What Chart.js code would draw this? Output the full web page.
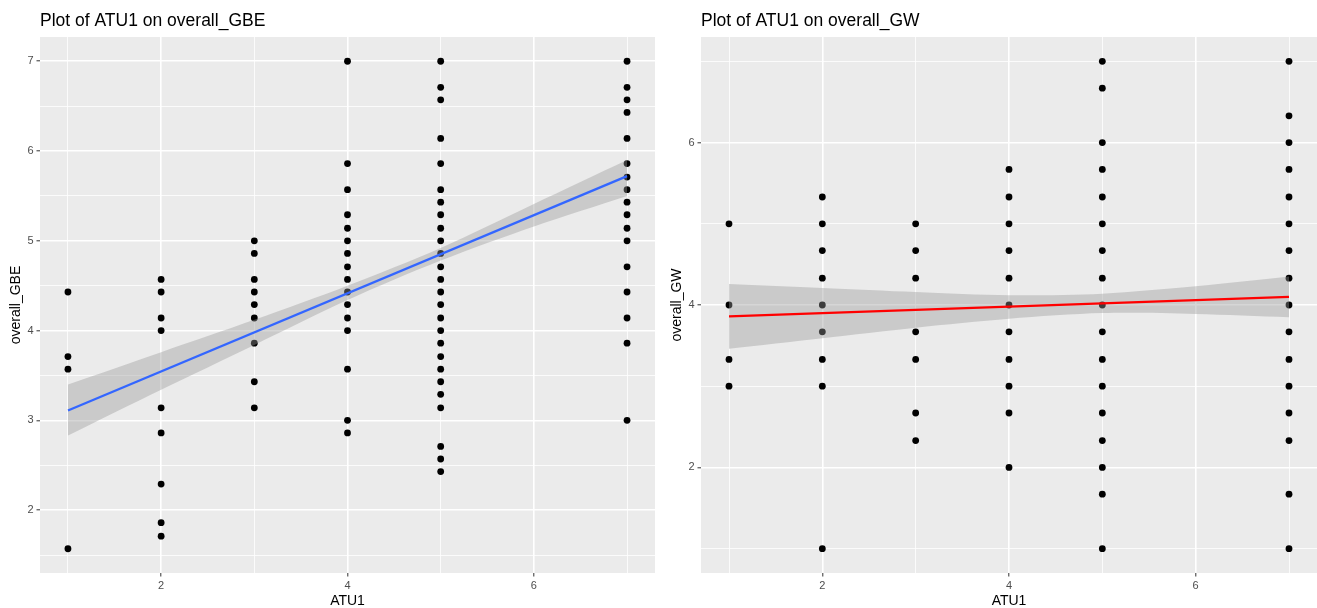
<!DOCTYPE html>
<html>
<head>
<meta charset="utf-8">
<script src="https://cdn.jsdelivr.net/npm/chart.js@4"></script>
<style>
  body { margin: 0; background: #fff; overflow: hidden; }
  canvas { position: absolute; top: 0; }
  #gbe { left: 0; }
  #gw { left: 658px; }
</style>
</head>
<body>
<canvas id="gbe" width="658" height="608"></canvas>
<canvas id="gw" width="659" height="608"></canvas>
<script>
// ATU1 levels present in the data
const atu1Levels = [1, 2, 3, 4, 5, 7];

// overall_GBE values for each ATU1 level
const gbeScores = [
  [4.43, 3.71, 3.57, 1.57],
  [4.57, 4.43, 4.14, 4.00, 3.14, 2.86, 2.29, 1.86, 1.71],
  [5.00, 4.86, 4.57, 4.43, 4.29, 4.14, 3.86, 3.43, 3.14],
  [7.00, 5.86, 5.57, 5.29, 5.14, 5.00, 4.86, 4.71, 4.57, 4.43, 4.29, 4.14, 4.00, 3.57, 3.00, 2.86],
  [7.00, 6.71, 6.57, 6.14, 5.86, 5.57, 5.43, 5.29, 5.14, 5.00, 4.86, 4.71, 4.57, 4.43, 4.29, 4.14,
   4.00, 3.86, 3.71, 3.57, 3.43, 3.29, 3.14, 2.71, 2.57, 2.43],
  [7.00, 6.71, 6.57, 6.43, 6.14, 5.86, 5.71, 5.57, 5.43, 5.29, 5.14, 5.00, 4.71, 4.43, 4.14, 3.86, 3.00]
];

// overall_GW values for each ATU1 level
const gwScores = [
  [5.00, 4.00, 3.33, 3.00],
  [5.33, 5.00, 4.67, 4.33, 4.00, 3.67, 3.33, 3.00, 1.00],
  [5.00, 4.67, 4.33, 3.67, 3.33, 2.67, 2.33],
  [5.67, 5.33, 5.00, 4.67, 4.33, 4.00, 3.67, 3.33, 3.00, 2.67, 2.00],
  [7.00, 6.67, 6.00, 5.67, 5.33, 5.00, 4.67, 4.33, 4.00, 3.67, 3.33, 3.00, 2.67, 2.33, 2.00, 1.67, 1.00],
  [7.00, 6.33, 6.00, 5.67, 5.33, 5.00, 4.67, 4.33, 4.00, 3.67, 3.33, 3.00, 2.67, 2.33, 1.67, 1.00]
];

// fitted lines and confidence bands
const fitX = [1, 7];
const gbeFitY = [3.11, 5.72];
const gwFitY = [3.86, 4.10];
const bandX = [1, 2, 3, 4, 5, 6, 7];
const gbeBandLow = [2.83, 3.34, 3.84, 4.34, 4.78, 5.16, 5.50];
const gbeBandHigh = [3.40, 3.76, 4.12, 4.50, 4.92, 5.41, 5.90];
const gwBandLow = [3.46, 3.59, 3.72, 3.83, 3.90, 3.89, 3.85];
const gwBandHigh = [4.26, 4.21, 4.16, 4.12, 4.14, 4.23, 4.35];

// axis ticks (grid positions) and labelled ones
const xGrid = [1, 2, 3, 4, 5, 6, 7];
const xLabels = [2, 4, 6];
const gbeYGrid = [1.5, 2, 2.5, 3, 3.5, 4, 4.5, 5, 5.5, 6, 6.5, 7];
const gbeYLabels = [2, 3, 4, 5, 6, 7];
const gwYGrid = [1, 2, 3, 4, 5, 6, 7];
const gwYLabels = [2, 4, 6];

const FONT = '"Liberation Sans", Arial, Helvetica, sans-serif';

const panelBg = {
  id: 'panelBg',
  beforeDraw(chart) {
    const a = chart.chartArea, ctx = chart.ctx;
    ctx.save();
    ctx.fillStyle = '#EBEBEB';
    ctx.fillRect(a.left, a.top, a.right - a.left, a.bottom - a.top);
    ctx.restore();
  }
};

const plotTitle = {
  id: 'plotTitle',
  afterDraw(chart, args, opts) {
    const ctx = chart.ctx;
    ctx.save();
    ctx.font = '17.5px ' + FONT;
    ctx.fillStyle = '#000';
    ctx.textBaseline = 'alphabetic';
    ctx.fillText(opts.text, chart.chartArea.left, 26);
    ctx.restore();
  }
};

function axis(grid, labels, min, max, title, horizontal, size, titlePad) {
  const major = v => labels.includes(v);
  return {
    type: 'linear',
    min: min,
    max: max,
    afterBuildTicks: s => { s.ticks = grid.map(v => ({ value: v })); },
    afterFit: s => {
      if (horizontal) s.height = size; else s.width = size;
      s.paddingLeft = s.paddingRight = s.paddingTop = s.paddingBottom = 0;
    },
    border: { display: false },
    grid: {
      color: '#FFFFFF',
      lineWidth: c => major(c.tick.value) ? 1.6 : 0.8,
      tickColor: c => major(c.tick.value) ? '#333333' : 'rgba(0,0,0,0)',
      tickWidth: 1,
      tickLength: 3.5,
      drawTicks: true
    },
    ticks: {
      autoSkip: false,
      maxRotation: 0,
      padding: 3,
      color: '#4D4D4D',
      font: { family: FONT, size: 11 },
      callback: v => major(v) ? String(v) : ''
    },
    title: {
      display: true,
      text: title,
      color: '#000',
      font: { family: FONT, size: 14, lineHeight: 1 },
      padding: { top: titlePad, bottom: 0 }
    }
  };
}

function makePanel(id, title, yTitle, scores, fitY, bandLow, bandHigh, lineColor,
                   yMin, yMax, yGrid, yLabels, yWidth, yTitlePad, padRight) {
  const points = atu1Levels.flatMap((x, i) => scores[i].map(y => ({ x: x, y: y })));
  new Chart(document.getElementById(id), {
    type: 'scatter',
    data: {
      datasets: [
        {
          data: points,
          pointRadius: 3.4,
          pointBackgroundColor: '#000',
          pointBorderWidth: 0,
          pointBorderColor: 'rgba(0,0,0,0)',
          order: 3
        },
        {
          data: bandX.map((x, i) => ({ x: x, y: bandLow[i] })),
          showLine: true,
          borderColor: 'rgba(0,0,0,0)',
          borderWidth: 0,
          pointRadius: 0,
          tension: 0.3,
          fill: false,
          order: 2
        },
        {
          data: bandX.map((x, i) => ({ x: x, y: bandHigh[i] })),
          showLine: true,
          borderColor: 'rgba(0,0,0,0)',
          borderWidth: 0,
          pointRadius: 0,
          tension: 0.3,
          fill: '-1',
          backgroundColor: 'rgba(153,153,153,0.4)',
          order: 2
        },
        {
          data: fitX.map((x, i) => ({ x: x, y: fitY[i] })),
          showLine: true,
          borderColor: lineColor,
          borderWidth: 2.3,
          pointRadius: 0,
          fill: false,
          order: 1
        }
      ]
    },
    options: {
      responsive: false,
      animation: false,
      events: [],
      layout: { autoPadding: false, padding: { top: 37, right: padRight, left: 0, bottom: 0 } },
      scales: {
        x: axis(xGrid, xLabels, 0.7, 7.3, 'ATU1', true, 35, 0),
        y: axis(yGrid, yLabels, yMin, yMax, yTitle, false, yWidth, yTitlePad)
      },
      plugins: {
        legend: { display: false },
        tooltip: { enabled: false },
        plotTitle: { text: title }
      }
    },
    plugins: [panelBg, plotTitle]
  });
}

makePanel('gbe', 'Plot of ATU1 on overall_GBE', 'overall_GBE', gbeScores, gbeFitY,
  gbeBandLow, gbeBandHigh, '#3366FF', 1.3, 7.27, gbeYGrid, gbeYLabels, 40, 9, 3);
makePanel('gw', 'Plot of ATU1 on overall_GW', 'overall_GW', gwScores, gwFitY,
  gwBandLow, gwBandHigh, '#FF0000', 0.7, 7.3, gwYGrid, gwYLabels, 43, 12, 0);
</script>
</body>
</html>
